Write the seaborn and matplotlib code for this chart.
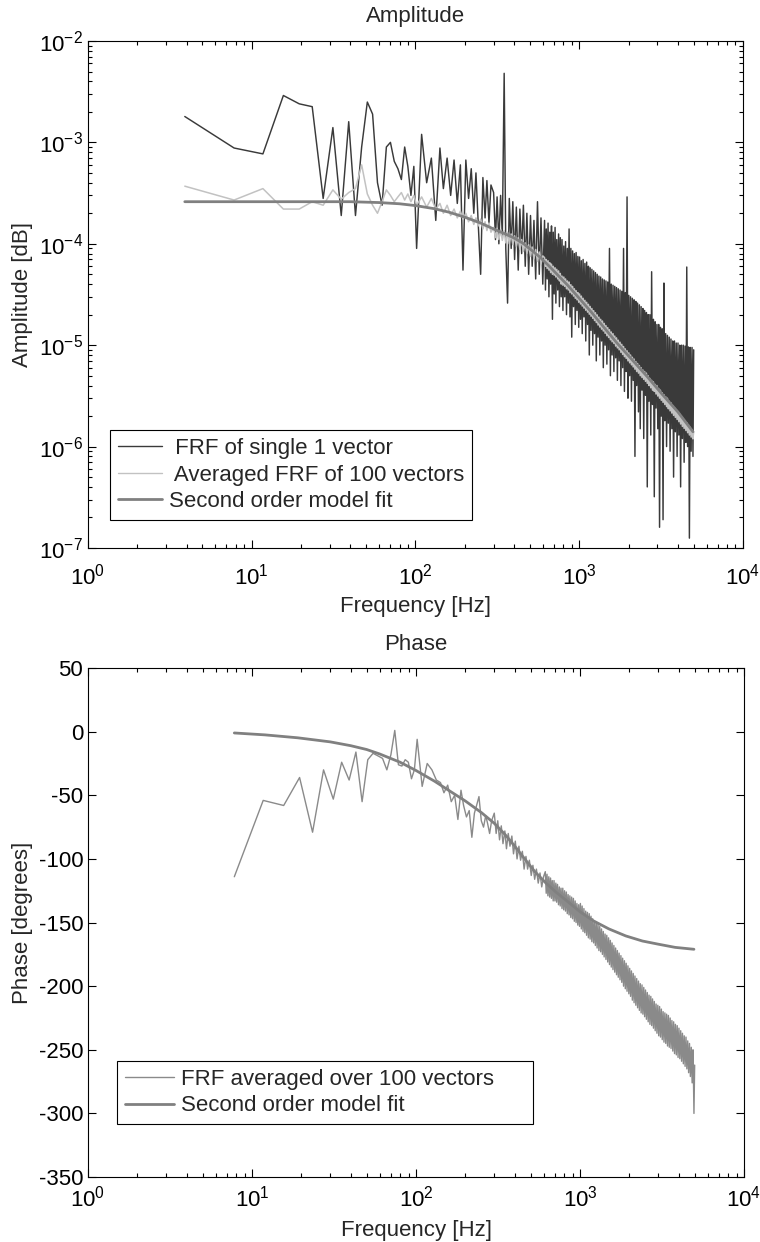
import numpy as np
import matplotlib
matplotlib.use("Agg")
import matplotlib.pyplot as plt
import seaborn as sns
from matplotlib.ticker import FixedLocator, LogLocator, NullFormatter, FuncFormatter

# ---------------- data ----------------
# shared frequency bins [Hz]
freq_low = [3.9, 7.8, 11.7, 15.6, 19.5, 23.4, 27.3, 31.3, 35.2, 39.1, 43.0, 46.9, 50.8,
            54.7, 58.6, 62.5, 66.4, 70.3, 74.2, 78.1, 82.0, 85.9, 89.8, 93.8, 97.7, 101.6]
freq_mid = [109, 117, 125, 133, 141, 148, 156, 164, 172, 180, 188, 195, 203, 211, 219,
            227, 234, 242, 250, 258, 266, 273, 281, 289]
freq_upper = [300, 308, 315, 323, 331, 339, 348, 356, 365, 374,
              384, 393, 403, 413, 424, 434, 445, 456, 468, 479,
              491, 504, 516, 529, 542, 556, 570, 584, 599]
freq_high = [614, 622, 629, 637, 645, 653, 661, 669, 677, 686,
             694, 703, 712, 720, 729, 739, 748, 757, 766, 776,
             785, 795, 805, 815, 825, 836, 846, 857, 867, 878,
             889, 900, 911, 923, 934, 946, 957, 969, 981, 993,
             1005, 1018, 1030, 1043, 1056, 1069, 1083, 1096, 1110, 1124,
             1138, 1152, 1166, 1180, 1195, 1210, 1225, 1240, 1256, 1271,
             1287, 1303, 1319, 1336, 1352, 1369, 1386, 1403, 1421, 1439,
             1456, 1475, 1493, 1512, 1530, 1550, 1568, 1588, 1608, 1628,
             1648, 1669, 1689, 1710, 1731, 1753, 1775, 1797, 1819, 1842,
             1865, 1888, 1911, 1935, 1959, 1984, 2008, 2033, 2058, 2084,
             2110, 2136, 2162, 2189, 2216, 2244, 2272, 2300, 2329, 2358,
             2387, 2417, 2447, 2477, 2508, 2539, 2571, 2603, 2635, 2668,
             2701, 2735, 2768, 2803, 2837, 2873, 2908, 2944, 2981, 3018,
             3056, 3094, 3132, 3171, 3210, 3250, 3291, 3332, 3373, 3415,
             3457, 3500, 3544, 3588, 3632, 3677, 3723, 3769, 3816, 3864,
             3912, 3960, 4009, 4059, 4110, 4161, 4212, 4265, 4318, 4371,
             4426, 4481, 4536, 4593, 4650, 4707, 4766, 4825, 4885, 4950,
             5000]

# amplitude of FRF of a single vector
amp_single_low = [1.8e-3, 8.8e-4, 7.7e-4, 2.9e-3, 2.4e-3, 2.25e-3, 2.8e-4, 1.4e-3, 1.9e-4,
                  1.6e-3, 1.9e-4, 9e-4, 2.5e-3, 1.9e-3, 4e-4, 2.4e-4, 9e-4, 1.0e-3, 6.5e-4,
                  5.5e-4, 4.3e-4, 9e-4, 5.8e-4, 3.0e-4, 5.8e-4, 9e-5]
amp_single_mid = [1.2e-3, 4e-4, 7e-4, 1.7e-4, 8.8e-4, 3.5e-4, 7e-4, 3e-4, 6.7e-4, 2.5e-4,
                  6e-4, 5.5e-5, 6.7e-4, 2.8e-4, 5.5e-4, 2e-4, 5e-4, 1.5e-4, 5e-5, 4.5e-4,
                  1.8e-4, 4.2e-4, 1.6e-4, 3.8e-4]
amp_single_upper = [3.2e-4, 1.1e-4, 2.9e-4, 1.0e-4, 3.0e-4, 1.2e-4, 4.8e-3, 9e-5, 2.6e-5, 2.8e-4,
                    9e-5, 2.6e-4, 7e-5, 2.3e-4, 5.5e-5, 2.2e-4, 8e-5, 2.4e-4, 6e-5, 2.0e-4,
                    5e-5, 1.9e-4, 6e-5, 1.7e-4, 4.5e-5, 2.6e-4, 5e-5, 1.8e-4, 4e-5]
amp_single_high = [1.7e-4, 3.5e-5, 1.4e-4, 4.5e-5, 1.6e-4, 3e-5, 1.3e-4, 4e-5, 1.5e-4, 1.8e-5,
                   1.3e-4, 3.2e-5, 1.45e-4, 2.6e-5, 1.1e-4, 3.5e-5, 1.25e-4, 2.4e-5, 1.15e-4, 3e-5,
                   1.1e-4, 2.2e-5, 9.5e-5, 3e-5, 1.05e-4, 2.0e-5, 9e-5, 2.6e-5, 1.4e-4, 1.9e-5,
                   9e-5, 1.2e-5, 8.5e-5, 2.4e-5, 8e-5, 1.6e-5, 8.2e-5, 2.2e-5, 7.5e-5, 1.5e-5,
                   7.4e-5, 1.8e-5, 6.8e-5, 1.3e-5, 7e-5, 1.9e-5, 6.4e-5, 1.1e-5, 6.6e-5, 1.6e-5,
                   6e-5, 8e-6, 5.8e-5, 1.4e-5, 5.6e-5, 1.0e-5, 5.4e-5, 1.3e-5, 5.2e-5, 7e-6,
                   5e-5, 1.2e-5, 4.8e-5, 8e-6, 4.7e-5, 1.1e-5, 4.5e-5, 6e-6, 4.4e-5, 1.0e-5,
                   4.3e-5, 6.5e-6, 4.2e-5, 9e-6, 9e-5, 5e-6, 4e-5, 8e-6, 3.9e-5, 5.5e-6,
                   3.8e-5, 7.5e-6, 3.7e-5, 4.5e-6, 3.6e-5, 7e-6, 3.5e-5, 4e-6, 3.4e-5, 6e-6,
                   9e-5, 3.5e-6, 3.3e-5, 5.5e-6, 2.9e-4, 3e-6, 3.1e-5, 5e-6, 3e-5, 2.8e-6,
                   2.9e-5, 4.5e-6, 2.8e-5, 8e-7, 2.7e-5, 4e-6, 2.6e-5, 2.2e-6, 2.5e-5, 1.5e-6,
                   2.4e-5, 3.6e-6, 2.3e-5, 1.2e-6, 2.2e-5, 3.2e-6, 2.1e-5, 4e-7, 2.0e-5, 2.8e-6,
                   2.0e-5, 1.3e-6, 5.3e-5, 2.6e-6, 1.8e-5, 3.2e-7, 1.7e-5, 2.4e-6, 1.6e-5, 1.5e-6,
                   1.6e-5, 1.6e-7, 1.5e-5, 2.0e-6, 1.45e-5, 1.9e-7, 4.1e-5, 1.8e-6, 1.3e-5, 1.0e-6,
                   1.25e-5, 1.7e-6, 1.2e-5, 9e-7, 1.15e-5, 1.5e-6, 1.1e-5, 5e-7, 1.1e-5, 1.4e-6,
                   1.05e-5, 8e-7, 1.05e-5, 1.3e-6, 1.0e-5, 4e-7, 1.0e-5, 1.2e-6, 1.0e-5, 7e-7,
                   9.8e-6, 1.1e-6, 5.9e-5, 1.0e-6, 9.6e-6, 1.25e-7, 9.5e-6, 9e-7, 9.5e-6, 8e-7,
                   9e-6]

# amplitude of FRF averaged over 100 vectors
amp_avg_low = [3.7e-4, 2.7e-4, 3.5e-4, 2.2e-4, 2.2e-4, 2.6e-4, 2.4e-4, 3.4e-4, 2.75e-4, 3.2e-4,
               3.5e-4, 6.0e-4, 3.1e-4, 2.4e-4, 2.0e-4, 2.6e-4, 3.4e-4, 3.0e-4, 2.6e-4, 2.9e-4,
               3.2e-4, 2.7e-4, 3.1e-4, 2.6e-4, 3.0e-4, 2.4e-4]
amp_avg_mid = [2.9e-4, 2.3e-4, 2.8e-4, 2.2e-4, 2.5e-4, 2.0e-4, 2.4e-4, 1.9e-4, 2.2e-4, 1.8e-4,
               2.1e-4, 1.75e-4, 2.0e-4, 1.65e-4, 1.9e-4, 1.55e-4, 1.8e-4, 1.5e-4, 1.75e-4, 1.4e-4,
               1.65e-4, 1.35e-4, 1.6e-4, 1.3e-4]
amp_avg_upper = [1.45e-4, 1.15e-4, 1.42e-4, 1.1e-4, 1.38e-4, 1.08e-4, 1.35e-4, 1.02e-4, 1.3e-4, 1.0e-4,
                 1.25e-4, 9.8e-5, 1.2e-4, 9.4e-5, 1.15e-4, 8.8e-5, 1.1e-4, 8.4e-5, 1.02e-4, 8.0e-5,
                 9.8e-5, 7.5e-5, 9.3e-5, 7.1e-5, 8.8e-5, 6.7e-5, 8.3e-5, 6.3e-5, 7.6e-5]
amp_avg_high = [7.3e-5, 6.0e-5, 7.0e-5, 5.7e-5, 6.8e-5, 5.5e-5, 6.5e-5, 5.2e-5, 6.3e-5, 5.0e-5,
                6.0e-5, 4.9e-5, 5.8e-5, 4.7e-5, 5.6e-5, 4.5e-5, 5.4e-5, 4.3e-5, 5.1e-5, 4.0e-5,
                4.8e-5, 3.9e-5, 4.7e-5, 3.8e-5, 4.5e-5, 3.6e-5, 4.3e-5, 3.5e-5, 4.2e-5, 3.3e-5,
                3.95e-5, 3.2e-5, 3.8e-5, 3.05e-5, 3.6e-5, 2.9e-5, 3.45e-5, 2.8e-5, 3.3e-5, 2.65e-5,
                3.2e-5, 2.55e-5, 3.05e-5, 2.43e-5, 2.9e-5, 2.32e-5, 2.77e-5, 2.21e-5, 2.65e-5, 2.12e-5,
                2.53e-5, 2.02e-5, 2.41e-5, 1.93e-5, 2.3e-5, 1.84e-5, 2.19e-5, 1.75e-5, 2.09e-5, 1.67e-5,
                1.99e-5, 1.58e-5, 1.89e-5, 1.51e-5, 1.8e-5, 1.44e-5, 1.73e-5, 1.38e-5, 1.64e-5, 1.31e-5,
                1.56e-5, 1.24e-5, 1.49e-5, 1.19e-5, 1.42e-5, 1.13e-5, 1.35e-5, 1.08e-5, 1.3e-5, 1.04e-5,
                1.23e-5, 9.8e-6, 1.18e-5, 9.4e-6, 1.12e-5, 9.0e-6, 1.07e-5, 8.5e-6, 1.02e-5, 8.1e-6,
                9.7e-6, 7.7e-6, 9.2e-6, 7.4e-6, 8.8e-6, 7.0e-6, 8.4e-6, 6.7e-6, 8.0e-6, 6.4e-6,
                7.6e-6, 6.1e-6, 7.3e-6, 5.8e-6, 6.9e-6, 5.5e-6, 6.6e-6, 5.3e-6, 6.3e-6, 5.0e-6,
                6.0e-6, 4.8e-6, 5.7e-6, 4.6e-6, 5.5e-6, 4.4e-6, 5.3e-6, 4.2e-6, 5.0e-6, 4.0e-6,
                4.7e-6, 3.8e-6, 4.5e-6, 3.6e-6, 4.35e-6, 3.5e-6, 4.1e-6, 3.3e-6, 4.0e-6, 3.15e-6,
                3.75e-6, 3.0e-6, 3.6e-6, 2.86e-6, 3.4e-6, 2.73e-6, 3.25e-6, 2.6e-6, 3.1e-6, 2.48e-6,
                3.0e-6, 2.36e-6, 2.8e-6, 2.25e-6, 2.7e-6, 2.14e-6, 2.53e-6, 2.03e-6, 2.42e-6, 1.94e-6,
                2.31e-6, 1.85e-6, 2.2e-6, 1.76e-6, 2.09e-6, 1.67e-6, 1.98e-6, 1.58e-6, 1.89e-6, 1.51e-6,
                1.8e-6, 1.44e-6, 1.72e-6, 1.37e-6, 1.63e-6, 1.3e-6, 1.55e-6, 1.24e-6, 1.47e-6, 1.19e-6,
                1.4e-6]

# phase of averaged FRF [degrees] (no value at the first bin)
phase_avg_low = [np.nan, -114, -54, -58, -36, -79, -30, -53, -24, -38, -16, -55, -22, -17, -19,
                 -21, -30, -18, 1, -26, -27, -22, -24, -37, -30, -6]
phase_avg_mid = [-43, -25, -30, -38, -40, -48, -42, -55, -50, -69, -46, -58, -67, -62, -83,
                 -64, -58, -51, -70, -75, -66, -72, -80, -70]
phase_avg_upper = [-64, -80, -70, -85, -74, -88, -78, -92, -80, -90,
                   -82, -96, -86, -100, -90, -101, -94, -108, -98, -108,
                   -101, -113, -105, -116, -108, -119, -111, -122, -114]
phase_avg_high = [-110, -127, -112, -129, -114, -130, -115, -131, -117, -133,
                  -117, -133, -119, -134, -120, -136, -122, -137, -123, -139,
                  -123, -140, -125, -141, -126, -143, -128, -144, -129, -146,
                  -130, -147, -131, -149, -133, -150, -135, -152, -136, -153,
                  -135, -155, -137, -157, -139, -158, -141, -160, -142, -162,
                  -143, -163, -145, -165, -147, -166, -149, -168, -150, -170,
                  -151, -172, -153, -173, -155, -175, -157, -177, -159, -179,
                  -160, -181, -162, -183, -164, -185, -166, -187, -168, -189,
                  -170, -191, -172, -193, -174, -195, -176, -197, -178, -200,
                  -180, -202, -182, -204, -184, -206, -186, -208, -188, -211,
                  -190, -213, -192, -215, -194, -217, -196, -219, -198, -221,
                  -199, -222, -201, -224, -203, -226, -205, -228, -207, -230,
                  -208, -231, -210, -233, -212, -235, -214, -237, -215, -239,
                  -216, -240, -218, -242, -220, -244, -221, -245, -222, -247,
                  -223, -248, -225, -249, -227, -251, -228, -253, -230, -254,
                  -231, -256, -233, -257, -235, -259, -237, -261, -239, -263,
                  -240, -265, -243, -268, -245, -271, -248, -276, -250, -300,
                  -262]

# second order model fit
fit_amp_freq = [3.9, 10, 20, 40, 60, 80, 100, 130, 160, 200, 250, 300, 350, 400, 450, 500,
                575, 650, 750, 850, 1000, 1200, 1400, 1700, 2100, 2600, 3200, 4000, 4950]
fit_amp = [2.6e-4, 2.6e-4, 2.6e-4, 2.6e-4, 2.55e-4, 2.48e-4, 2.38e-4, 2.22e-4, 2.05e-4, 1.83e-4,
           1.6e-4, 1.4e-4, 1.26e-4, 1.14e-4, 1.02e-4, 8.9e-5, 7.4e-5, 6.1e-5, 4.8e-5, 3.9e-5,
           2.9e-5, 2.07e-5, 1.53e-5, 1.05e-5, 7.2e-6, 4.9e-6, 3.3e-6, 2.2e-6, 1.4e-6]
fit_phase_freq = [7.8, 12, 19, 30, 40, 50, 60, 80, 100, 130, 160, 200, 250, 300, 350, 400, 460,
                  530, 620, 720, 850, 1000, 1200, 1500, 1900, 2400, 3000, 3800, 4950]
fit_phase = [-1, -2.5, -4.8, -8, -11, -14, -17.5, -24, -30.5, -39, -46.5, -54.5, -63.5, -72, -81,
             -90, -100, -110, -119, -126.5, -134, -141.5, -148.5, -155, -160.5, -164.5, -167,
             -169.5, -171]

freq = freq_low + freq_mid + freq_upper + freq_high
amp_single = amp_single_low + amp_single_mid + amp_single_upper + amp_single_high
amp_avg = amp_avg_low + amp_avg_mid + amp_avg_upper + amp_avg_high
phase_avg = phase_avg_low + phase_avg_mid + phase_avg_upper + phase_avg_high

# ---------------- style ----------------
sns.set_theme(style="ticks")
plt.rcParams['font.family'] = ['Liberation Sans', 'DejaVu Sans']
plt.rcParams['mathtext.fontset'] = 'custom'
plt.rcParams['mathtext.rm'] = 'Liberation Sans'
plt.rcParams['mathtext.it'] = 'Liberation Sans:italic'
plt.rcParams['mathtext.bf'] = 'Liberation Sans:bold'
plt.rcParams['axes.unicode_minus'] = False

FS = 16
C_DARK = '#3a3a3a'
C_LIGHT = '#c2c2c2'
C_FIT = '#808080'
C_PH = '#8a8a8a'

fig = plt.figure(figsize=(7.6, 12.42), dpi=100)
ax1 = fig.add_axes([0.1158, 0.5588, 0.8618, 0.4082])
ax2 = fig.add_axes([0.1158, 0.0523, 0.8632, 0.4098])

# ---------------- amplitude ----------------
sns.lineplot(x=freq, y=amp_single, ax=ax1, color=C_DARK, linewidth=1.05,
             estimator=None, sort=False, label=' FRF of single 1 vector')
sns.lineplot(x=freq, y=amp_avg, ax=ax1, color=C_LIGHT, linewidth=1.1,
             estimator=None, sort=False, label=' Averaged FRF of 100 vectors')
sns.lineplot(x=fit_amp_freq, y=fit_amp, ax=ax1, color=C_FIT, linewidth=2.0,
             estimator=None, sort=False, label='Second order model fit')
ax1.set_xscale('log')
ax1.set_yscale('log')
ax1.set_xlim(1, 1e4)
ax1.set_ylim(1e-7, 1e-2)

# ---------------- phase ----------------
sns.lineplot(x=freq[1:], y=phase_avg[1:], ax=ax2, color=C_PH, linewidth=1.0,
             estimator=None, sort=False, label='FRF averaged over 100 vectors     ')
sns.lineplot(x=fit_phase_freq, y=fit_phase, ax=ax2, color=C_FIT, linewidth=2.0,
             estimator=None, sort=False, label='Second order model fit')
ax2.set_xscale('log')
ax2.set_xlim(1, 1e4)
ax2.set_ylim(-350, 50)
ax2.yaxis.set_major_locator(FixedLocator(list(range(-350, 51, 50))))

logfmt = FuncFormatter(lambda v, p: r'$\mathregular{10^{%d}}$' % int(round(np.log10(v))))

for ax in (ax1, ax2):
    ax.xaxis.set_major_locator(LogLocator(base=10, numticks=10))
    ax.xaxis.set_minor_locator(LogLocator(base=10, subs=np.arange(2, 10), numticks=20))
    ax.xaxis.set_major_formatter(logfmt)
    ax.xaxis.set_minor_formatter(NullFormatter())
    ax.tick_params(which='both', direction='in', top=True, right=True,
                   labelsize=FS, colors='black', width=0.8)
    ax.tick_params(which='major', length=6)
    ax.tick_params(which='minor', length=3)
    for s in ax.spines.values():
        s.set_color('black')
        s.set_linewidth(0.8)
    ax.grid(False)

ax1.tick_params(axis='x', pad=11)
ax2.tick_params(axis='x', pad=6)
ax1.set_xlabel('Frequency [Hz]', fontsize=FS, labelpad=5)
ax2.set_xlabel('Frequency [Hz]', fontsize=FS, labelpad=6)

ax1.yaxis.set_major_locator(LogLocator(base=10, numticks=10))
ax1.yaxis.set_minor_locator(LogLocator(base=10, subs=np.arange(2, 10), numticks=20))
ax1.yaxis.set_major_formatter(logfmt)
ax1.yaxis.set_minor_formatter(NullFormatter())

ax1.set_ylabel('Amplitude [dB]', fontsize=FS, labelpad=4)
ax2.set_ylabel('Phase [degrees]', fontsize=FS, labelpad=4)
ax1.set_title('Amplitude', fontsize=FS, pad=14)
ax2.set_title('Phase', fontsize=FS, pad=13)

leg1 = ax1.legend(loc='lower left', bbox_to_anchor=(0.0336, 0.0552), borderaxespad=0,
                  frameon=True, fancybox=False, edgecolor='black', framealpha=1,
                  fontsize=FS, handlelength=2.0, handletextpad=0.3, labelspacing=0.25,
                  borderpad=0.35)
leg1.get_frame().set_linewidth(0.8)
for h in leg1.get_lines()[:2]:
    h.set_linewidth(1.0)
leg2 = ax2.legend(loc='lower left', bbox_to_anchor=(0.0442, 0.104), borderaxespad=0,
                  frameon=True, fancybox=False, edgecolor='black', framealpha=1,
                  fontsize=FS, handlelength=2.2, handletextpad=0.35, labelspacing=0.25,
                  borderpad=0.35)
leg2.get_frame().set_linewidth(0.8)

fig.savefig('out.png', dpi=100)
